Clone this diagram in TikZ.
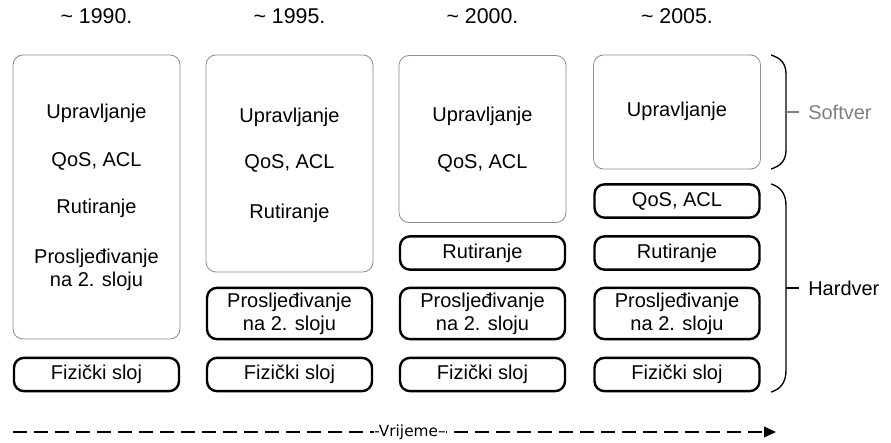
\documentclass[tikz,border=0pt]{standalone}
\usepackage{fontspec}
\setmainfont{Liberation Sans}
\newfontfamily\timefont{DejaVu Sans}
\usetikzlibrary{arrows.meta}
\begin{document}
\begin{tikzpicture}[x=0.75pt,y=-0.75pt,
  softbox/.style={draw=black!45,line width=0.6pt,rounded corners=7.5pt,
    minimum width=125.25pt,inner sep=0pt},
  hardbox/.style={draw=black,line width=1.8pt,rounded corners=7.5pt,
    minimum width=123.75pt,inner sep=0pt,align=center,
    font=\fontsize{15}{17.5}\selectfont},
  label/.style={font=\fontsize{15}{17.5}\selectfont,inner sep=0pt,align=center},
  year/.style={font=\fontsize{16}{18}\selectfont,inner sep=0pt},
  brace/.style={line width=1pt}
]
\useasboundingbox (0,0) rectangle (891,442);

% years
\node[year] (y1) at (96.5,16) {\textasciitilde\ 1990.};
\node[year] (y2) at (289.5,16) {\textasciitilde\ 1995.};
\node[year] (y3) at (482.5,16) {\textasciitilde\ 2000.};
\node[year] (y4) at (677,16) {\textasciitilde\ 2005.};

% software boxes
\node[softbox,minimum height=213pt] (s1) at (96.5,197) {};
\node[softbox,minimum height=162.75pt] (s2) at (289.5,163.5) {};
\node[softbox,minimum height=125.25pt] (s3) at (482.5,139) {};
\node[softbox,minimum height=85.5pt] (s4) at (677,112) {};

% column 1 texts
\node[label] (t11) at (96.5,113) {Upravljanje};
\node[label] (t12) at (96.5,161) {QoS, ACL};
\node[label] (t13) at (96.5,208) {Rutiranje};
\node[label] (t14) at (96.5,270) {Prosljeđivanje\\na 2. sloju};
% column 2 texts
\node[label] (t21) at (289.5,117) {Upravljanje};
\node[label] (t22) at (289.5,163) {QoS, ACL};
\node[label] (t23) at (289.5,213) {Rutiranje};
% column 3 texts
\node[label] (t31) at (482.5,116) {Upravljanje};
\node[label] (t32) at (482.5,163) {QoS, ACL};
% column 4 text
\node[label] (t41) at (677,111) {Upravljanje};

% hardware boxes
\node[hardbox,minimum height=25pt] (f1) at (96.5,374.5) {Fizički sloj};
\node[hardbox,minimum height=25pt] (f2) at (289.5,374.5) {Fizički sloj};
\node[hardbox,minimum height=25pt] (f3) at (482.5,374.5) {Fizički sloj};
\node[hardbox,minimum height=25pt] (f4) at (677,374.5) {Fizički sloj};

\node[hardbox,minimum height=38.5pt] (p2) at (289.5,313.5) {Prosljeđivanje\\na 2. sloju};
\node[hardbox,minimum height=38.5pt] (p3) at (482.5,313.5) {Prosljeđivanje\\na 2. sloju};
\node[hardbox,minimum height=38.5pt] (p4) at (677,313.5) {Prosljeđivanje\\na 2. sloju};

\node[hardbox,minimum height=25pt] (r3) at (482.5,253) {Rutiranje};
\node[hardbox,minimum height=25pt] (r4) at (677,253) {Rutiranje};

\node[hardbox,minimum height=25pt] (q4) at (677,201) {QoS, ACL};

% braces
\coordinate (sb) at (786,112);
\coordinate (hb) at (786,288);
\draw[brace] (771,55) .. controls (781,58) and (786,64) .. (786,74)
  -- (786,150) .. controls (786,160) and (781,166) .. (771,169);
\draw[brace] (771,184) .. controls (781,187) and (786,194) .. (786,206)
  -- (786,370) .. controls (786,382) and (781,389) .. (771,392);
\node[label,text=black!50,anchor=west] (sw) at (808,112) {Softver};
\node[label,anchor=west] (hw) at (808,288) {Hardver};
\draw[black!50,line width=0.8pt] (sb) -- (sw.west -| 799,0);
\draw[black,line width=0.8pt] (hb) -- (hw.west -| 799,0);

% time axis
\coordinate (ta) at (13,432);
\coordinate (tb) at (776,432);
\draw[line width=1pt,dash pattern=on 10.5pt off 5.25pt,-{Triangle[length=9pt,width=8pt]}] (ta) -- (tb);
\node[fill=white,inner sep=0pt,font=\timefont\fontsize{11.5}{13}\selectfont] (tm) at (410,432) {-Vrijeme–};
\end{tikzpicture}
\end{document}
